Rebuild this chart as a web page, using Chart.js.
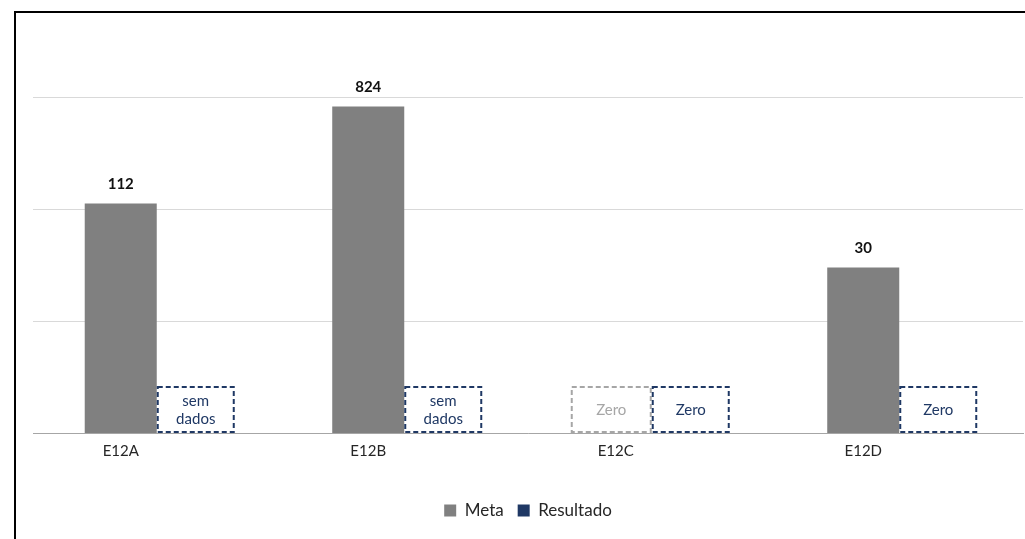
<!DOCTYPE html>
<html>
<head>
<meta charset="utf-8">
<script src="https://cdn.jsdelivr.net/npm/chart.js@4"></script>
<style>
  html, body { margin: 0; padding: 0; background: #fff; }
  #wrap { width: 1025px; height: 539px; position: relative; }
</style>
</head>
<body>
<div id="wrap"><canvas id="chart"></canvas></div>
<script>
// values
const categories = ['E12A', 'E12B', 'E12C', 'E12D'];
const meta = [112, 824, null, 30];
const resultado = [null, null, null, null];
const metaNotes = ['', '', 'Zero', ''];
const resultadoNotes = ['sem dados', 'sem dados', 'Zero', 'Zero'];
const yTicks = [1, 10, 100, 1000];

const GRAY = '#808080';
const NAVY = '#1f3864';
const FONT = 'Lato, "Open Sans", sans-serif';

// frame lines of the original picture
const framePlugin = {
    id: 'frame',
    beforeDraw(chart) {
        const ctx = chart.ctx;
        ctx.save();
        ctx.fillStyle = '#000';
        ctx.fillRect(14, 11, 1011, 2);
        ctx.fillRect(14, 11, 2, 528);
        ctx.restore();
    }
};

// values above bars and the dashed note boxes
const notesPlugin = {
    id: 'notes',
    afterDatasetsDraw(chart) {
        const ctx = chart.ctx;
        const x = chart.scales.x;
        const y = chart.scales.y;
        const base = y.getPixelForValue(1);
        const metaMeta = chart.getDatasetMeta(0);
        ctx.save();
        ctx.textAlign = 'center';
        ctx.textBaseline = 'middle';

        metaMeta.data.forEach((bar, i) => {
            if (meta[i] == null) return;
            ctx.font = 'bold 15px ' + FONT;
            ctx.fillStyle = '#111';
            ctx.fillText(String(meta[i]), bar.x, bar.y - 19);
        });

        function box(left, w, text, color) {
            const top = base - 46;
            ctx.save();
            ctx.setLineDash([5, 3]);
            ctx.lineWidth = 2;
            ctx.strokeStyle = color;
            ctx.strokeRect(left, top, w, 45);
            ctx.restore();
            ctx.fillStyle = color;
            ctx.font = '15px ' + FONT;
            const parts = text.split(' ');
            const cy = top + 23;
            if (parts.length > 1) {
                ctx.fillText(parts[0], left + w / 2, cy - 9);
                ctx.fillText(parts[1], left + w / 2, cy + 9);
            } else {
                ctx.fillText(text, left + w / 2, cy);
            }
        }

        categories.forEach((c, i) => {
            const cx = x.getPixelForValue(i);
            if (metaNotes[i]) box(cx - 80, 79, metaNotes[i], '#a6a6a6');
            if (resultadoNotes[i]) box(cx + 1, 76, resultadoNotes[i], NAVY);
        });
        ctx.restore();
    }
};

new Chart(document.getElementById('chart'), {
    type: 'bar',
    data: {
        labels: categories,
        datasets: [
            { label: 'Meta', data: meta, backgroundColor: GRAY, borderWidth: 0 },
            { label: 'Resultado', data: resultado, backgroundColor: NAVY, borderWidth: 0 }
        ]
    },
    options: {
        responsive: true,
        maintainAspectRatio: false,
        animation: false,
        layout: { padding: { left: 33, right: 2, top: 20, bottom: 10 } },
        datasets: { bar: { categoryPercentage: 0.582, barPercentage: 1 } },
        scales: {
            x: {
                grid: { display: false },
                border: { display: true, color: '#a6a6a6' },
                ticks: { color: '#262626', font: { size: 15, family: FONT }, labelOffset: -36, padding: 1 },
                afterFit(axis) { axis.height = 55; }
            },
            y: {
                type: 'logarithmic',
                min: 1,
                max: 4870,
                afterBuildTicks(axis) { axis.ticks = yTicks.map(v => ({ value: v })); },
                ticks: { display: false },
                grid: { color: '#d9d9d9', drawTicks: false },
                border: { display: false }
            }
        },
        plugins: {
            legend: {
                position: 'bottom',
                labels: {
                    color: '#262626',
                    font: { size: 17, family: FONT },
                    boxWidth: 12, boxHeight: 12, padding: 14
                }
            },
            tooltip: { enabled: false }
        }
    },
    plugins: [framePlugin, notesPlugin]
});
</script>
</body>
</html>
